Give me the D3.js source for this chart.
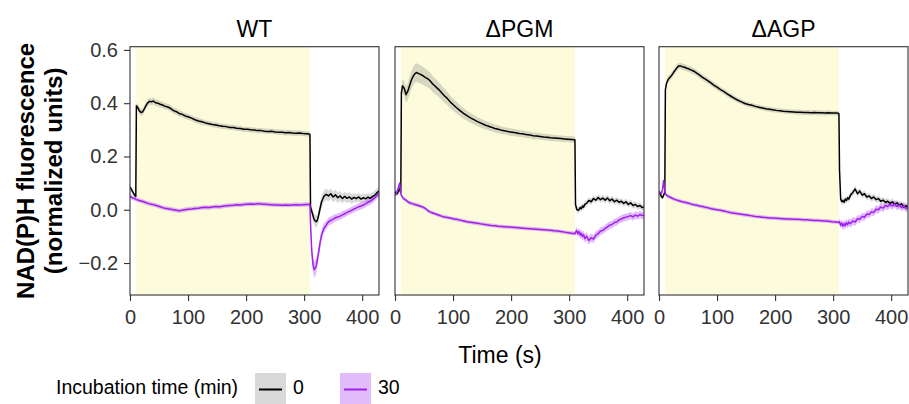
<!DOCTYPE html>
<html><head><meta charset="utf-8">
<script src="https://cdn.jsdelivr.net/npm/d3@7"></script>
<style>
body{margin:0;background:#fff;}
svg{display:block;font-family:"Liberation Sans",Arial,Helvetica,sans-serif;}
</style></head><body>
<svg id="chart" width="909" height="404"></svg>
<script>
// ---------------- DATA ----------------
const panelNames = ["WT", "\u0394PGM", "\u0394AGP"];
const incubationLevels = ["0", "30"];
const xTicks = [0, 100, 200, 300, 400];
const yTicks = [-0.2, 0, 0.2, 0.4, 0.6];
const yTickLabels = ["\u22120.2", "0.0", "0.2", "0.4", "0.6"];
const lightPeriod = [10, 310];

const time = [
 0,2,4,6,8,10,
 11,13,16,19,22,25,28,31,34,37,40,
 44,48,52,56,60,
 65,70,75,80,85,90,95,100,
 106,112,118,124,130,136,142,148,154,160,
 166,172,178,184,190,196,202,208,214,220,
 226,232,238,244,250,256,262,268,274,280,
 286,292,298,304,
 309,310,
 311,313,315,317,319,321,323,325,327,
 330,334,338,342,346,350,354,358,362,366,
 370,374,378,382,386,390,394,398,402,406,
 410,414,418,422,426,429
];

// WT, 0 min
const wt0 = [
 0.085,0.078,0.070,0.062,0.055,0.050,
 0.390,0.385,0.372,0.365,0.368,0.380,0.393,0.402,0.407,0.405,0.408,
 0.402,0.400,0.396,0.393,0.389,
 0.386,0.380,0.372,0.368,0.361,0.358,0.352,0.349,
 0.344,0.338,0.333,0.330,0.326,0.323,0.320,0.318,0.315,0.313,
 0.312,0.309,0.309,0.306,0.305,0.302,0.302,0.300,0.299,0.297,
 0.297,0.295,0.294,0.295,0.292,0.291,0.291,0.289,0.290,0.288,
 0.287,0.288,0.286,0.285,
 0.284,0.283,
 0.010,-0.005,-0.020,-0.035,-0.042,-0.045,-0.038,-0.020,0.000,
 0.030,0.050,0.058,0.052,0.060,0.048,0.056,0.045,0.052,0.042,
 0.050,0.043,0.048,0.040,0.046,0.042,0.048,0.040,0.045,0.041,
 0.047,0.043,0.050,0.055,0.065,0.070
];
const wt0se = [
 0.010,0.010,0.010,0.010,0.010,0.010,
 0.012,0.012,0.013,0.013,0.013,0.013,0.013,0.013,0.013,0.013,0.013,
 0.013,0.013,0.012,0.012,0.012,
 0.012,0.012,0.012,0.012,0.012,0.011,0.011,0.011,
 0.011,0.011,0.011,0.011,0.010,0.010,0.010,0.010,0.010,0.010,
 0.010,0.010,0.010,0.010,0.010,0.010,0.010,0.010,0.010,0.010,
 0.010,0.010,0.010,0.010,0.010,0.010,0.010,0.010,0.010,0.010,
 0.010,0.010,0.010,0.010,
 0.010,0.010,
 0.015,0.018,0.020,0.022,0.022,0.022,0.022,0.022,0.022,
 0.022,0.022,0.022,0.020,0.020,0.020,0.020,0.020,0.018,0.018,
 0.018,0.018,0.018,0.018,0.016,0.016,0.016,0.016,0.016,0.016,
 0.016,0.016,0.016,0.016,0.016,0.016
];
// WT, 30 min
const wt30 = [
 0.050,0.048,0.045,0.043,0.042,0.040,
 0.038,0.037,0.035,0.033,0.031,0.029,0.026,0.024,0.022,0.021,0.019,
 0.017,0.014,0.011,0.008,0.006,
 0.004,0.002,0.000,-0.002,-0.004,-0.002,0.000,0.002,
 0.003,0.005,0.006,0.008,0.009,0.008,0.010,0.012,0.011,0.013,
 0.015,0.016,0.017,0.019,0.018,0.020,0.021,0.022,0.021,0.023,
 0.022,0.021,0.020,0.019,0.018,0.018,0.017,0.018,0.017,0.018,
 0.019,0.018,0.019,0.020,
 0.020,0.020,
 -0.050,-0.150,-0.200,-0.225,-0.220,-0.210,-0.185,-0.160,-0.130,
 -0.095,-0.070,-0.058,-0.045,-0.040,-0.035,-0.030,-0.027,-0.024,-0.019,
 -0.015,-0.010,-0.006,-0.002,0.003,0.007,0.011,0.014,0.018,0.022,
 0.028,0.032,0.038,0.046,0.055,0.060
];
const wt30se = [
 0.008,0.008,0.008,0.008,0.008,0.008,
 0.008,0.008,0.008,0.008,0.008,0.008,0.008,0.008,0.008,0.008,0.008,
 0.008,0.008,0.008,0.008,0.008,
 0.008,0.008,0.008,0.008,0.008,0.008,0.008,0.008,
 0.008,0.008,0.008,0.008,0.008,0.008,0.008,0.008,0.008,0.008,
 0.008,0.008,0.008,0.008,0.008,0.008,0.008,0.008,0.008,0.008,
 0.008,0.008,0.008,0.008,0.008,0.008,0.008,0.008,0.008,0.008,
 0.008,0.008,0.008,0.008,
 0.008,0.010,
 0.020,0.025,0.030,0.030,0.030,0.028,0.026,0.024,0.022,
 0.020,0.018,0.016,0.015,0.015,0.015,0.014,0.014,0.014,0.014,
 0.013,0.013,0.013,0.013,0.013,0.013,0.013,0.013,0.013,0.013,
 0.013,0.013,0.013,0.013,0.013,0.013
];
// dPGM, 0 min
const pgm0 = [
 0.068,0.062,0.060,0.070,0.080,0.065,
 0.440,0.465,0.455,0.432,0.445,0.465,0.485,0.500,0.510,0.515,0.512,
 0.508,0.503,0.497,0.492,0.485,
 0.472,0.462,0.452,0.440,0.428,0.418,0.405,0.395,
 0.383,0.372,0.362,0.353,0.345,0.338,0.331,0.325,0.319,0.314,
 0.310,0.305,0.302,0.298,0.296,0.293,0.291,0.289,0.286,0.285,
 0.282,0.281,0.278,0.277,0.275,0.273,0.272,0.270,0.269,0.268,
 0.267,0.266,0.265,0.264,
 0.263,0.262,
 0.020,0.002,-0.002,0.000,0.008,0.004,0.014,0.010,0.020,
 0.024,0.035,0.030,0.042,0.036,0.046,0.038,0.044,0.036,0.044,
 0.034,0.040,0.030,0.036,0.028,0.032,0.024,0.030,0.020,0.026,
 0.016,0.020,0.012,0.016,0.008,0.010
];
const pgm0se = [
 0.010,0.010,0.010,0.010,0.010,0.010,
 0.022,0.026,0.028,0.030,0.032,0.033,0.034,0.035,0.035,0.035,0.035,
 0.034,0.034,0.033,0.032,0.031,
 0.030,0.029,0.028,0.027,0.026,0.025,0.024,0.023,
 0.022,0.021,0.020,0.019,0.018,0.018,0.017,0.017,0.016,0.016,
 0.015,0.015,0.015,0.014,0.014,0.014,0.014,0.013,0.013,0.013,
 0.013,0.013,0.013,0.012,0.012,0.012,0.012,0.012,0.012,0.012,
 0.012,0.012,0.012,0.012,
 0.012,0.012,
 0.012,0.012,0.012,0.012,0.012,0.012,0.012,0.012,0.012,
 0.012,0.012,0.012,0.012,0.012,0.012,0.012,0.012,0.012,0.012,
 0.012,0.012,0.012,0.012,0.012,0.012,0.012,0.012,0.012,0.012,
 0.012,0.012,0.012,0.012,0.012,0.012
];
// dPGM, 30 min
const pgm30 = [
 0.055,0.060,0.070,0.085,0.100,0.060,
 0.055,0.046,0.040,0.036,0.030,0.026,0.024,0.022,0.020,0.018,0.016,
 0.013,0.010,0.005,-0.002,-0.008,
 -0.012,-0.016,-0.020,-0.024,-0.027,-0.029,-0.031,-0.034,
 -0.036,-0.039,-0.042,-0.045,-0.047,-0.049,-0.051,-0.053,-0.055,-0.057,
 -0.059,-0.060,-0.062,-0.063,-0.064,-0.065,-0.066,-0.067,-0.068,-0.069,
 -0.070,-0.071,-0.072,-0.073,-0.074,-0.075,-0.076,-0.077,-0.079,-0.080,
 -0.082,-0.084,-0.086,-0.088,
 -0.089,-0.090,
 -0.085,-0.078,-0.090,-0.082,-0.095,-0.088,-0.100,-0.094,-0.108,
 -0.100,-0.115,-0.105,-0.110,-0.095,-0.090,-0.080,-0.078,-0.070,-0.064,
 -0.058,-0.055,-0.048,-0.046,-0.038,-0.035,-0.030,-0.028,-0.025,-0.022,
 -0.027,-0.020,-0.024,-0.018,-0.022,-0.020
];
const pgm30se = [
 0.007,0.007,0.007,0.007,0.007,0.007,
 0.007,0.007,0.007,0.007,0.007,0.007,0.007,0.007,0.007,0.007,0.007,
 0.007,0.007,0.007,0.007,0.007,
 0.007,0.007,0.007,0.007,0.007,0.007,0.007,0.007,
 0.007,0.007,0.007,0.007,0.007,0.007,0.007,0.007,0.007,0.007,
 0.007,0.007,0.007,0.007,0.007,0.007,0.007,0.007,0.007,0.007,
 0.007,0.007,0.007,0.007,0.007,0.007,0.007,0.007,0.007,0.007,
 0.007,0.007,0.007,0.007,
 0.007,0.008,
 0.012,0.013,0.014,0.015,0.016,0.016,0.016,0.016,0.016,
 0.016,0.016,0.016,0.015,0.015,0.015,0.014,0.014,0.014,0.014,
 0.014,0.014,0.014,0.014,0.014,0.014,0.014,0.014,0.014,0.014,
 0.014,0.014,0.014,0.014,0.014,0.014
];
// dAGP, 0 min
const agp0 = [
 0.068,0.060,0.050,0.045,0.055,0.065,
 0.450,0.475,0.490,0.497,0.505,0.515,0.524,0.533,0.540,0.540,0.537,
 0.535,0.531,0.528,0.524,0.520,
 0.513,0.505,0.497,0.490,0.483,0.475,0.467,0.460,
 0.451,0.443,0.434,0.426,0.418,0.411,0.405,0.399,0.395,0.392,
 0.388,0.385,0.382,0.379,0.377,0.375,0.373,0.372,0.370,0.369,
 0.368,0.367,0.366,0.366,0.365,0.365,0.364,0.365,0.364,0.364,
 0.363,0.364,0.363,0.363,
 0.362,0.360,
 0.150,0.040,0.030,0.035,0.028,0.040,0.035,0.045,0.040,
 0.055,0.065,0.078,0.060,0.070,0.055,0.060,0.048,0.052,0.042,
 0.048,0.038,0.042,0.032,0.036,0.028,0.032,0.024,0.030,0.020,
 0.026,0.016,0.022,0.010,0.015,0.008
];
const agp0se = [
 0.008,0.008,0.008,0.008,0.008,0.008,
 0.012,0.012,0.012,0.012,0.012,0.012,0.012,0.012,0.012,0.012,0.012,
 0.012,0.012,0.012,0.012,0.012,
 0.011,0.011,0.011,0.011,0.011,0.011,0.011,0.011,
 0.010,0.010,0.010,0.010,0.010,0.009,0.009,0.009,0.009,0.009,
 0.009,0.009,0.009,0.009,0.009,0.009,0.009,0.009,0.009,0.009,
 0.009,0.009,0.009,0.009,0.009,0.009,0.009,0.009,0.009,0.009,
 0.009,0.009,0.009,0.009,
 0.009,0.009,
 0.012,0.012,0.012,0.012,0.012,0.012,0.012,0.012,0.012,
 0.012,0.012,0.012,0.012,0.012,0.012,0.012,0.012,0.012,0.012,
 0.012,0.012,0.012,0.012,0.012,0.012,0.012,0.012,0.012,0.012,
 0.012,0.012,0.012,0.012,0.012,0.012
];
// dAGP, 30 min
const agp30 = [
 0.060,0.065,0.060,0.075,0.110,0.070,
 0.060,0.055,0.050,0.047,0.044,0.041,0.038,0.036,0.034,0.032,0.030,
 0.028,0.026,0.024,0.021,0.019,
 0.017,0.014,0.012,0.009,0.007,0.004,0.002,0.000,
 -0.002,-0.005,-0.008,-0.011,-0.013,-0.015,-0.017,-0.019,-0.021,-0.023,
 -0.025,-0.026,-0.028,-0.029,-0.031,-0.031,-0.032,-0.033,-0.034,-0.035,
 -0.035,-0.036,-0.036,-0.037,-0.038,-0.038,-0.039,-0.040,-0.040,-0.041,
 -0.042,-0.043,-0.045,-0.046,
 -0.047,-0.048,
 -0.045,-0.058,-0.050,-0.062,-0.052,-0.060,-0.048,-0.056,-0.046,
 -0.052,-0.042,-0.046,-0.034,-0.036,-0.025,-0.028,-0.016,-0.018,-0.008,
 -0.010,0.002,0.000,0.010,0.006,0.016,0.012,0.020,0.014,0.022,
 0.012,0.018,0.008,0.015,0.004,0.010
];
const agp30se = [
 0.007,0.007,0.007,0.007,0.007,0.007,
 0.007,0.007,0.007,0.007,0.007,0.007,0.007,0.007,0.007,0.007,0.007,
 0.007,0.007,0.007,0.007,0.007,
 0.007,0.007,0.007,0.007,0.007,0.007,0.007,0.007,
 0.007,0.007,0.007,0.007,0.007,0.007,0.007,0.007,0.007,0.007,
 0.007,0.007,0.007,0.007,0.007,0.007,0.007,0.007,0.007,0.007,
 0.007,0.007,0.007,0.007,0.007,0.007,0.007,0.007,0.007,0.007,
 0.007,0.007,0.007,0.007,
 0.007,0.008,
 0.012,0.013,0.014,0.015,0.015,0.015,0.015,0.015,0.015,
 0.015,0.015,0.015,0.014,0.014,0.014,0.014,0.014,0.014,0.014,
 0.014,0.014,0.014,0.014,0.014,0.014,0.014,0.014,0.014,0.014,
 0.014,0.014,0.014,0.014,0.014,0.014
];

// ---------------- LAYOUT / STYLE ----------------
const seriesByPanel = [
  [{mean: wt0, se: wt0se, lvl: 0}, {mean: wt30, se: wt30se, lvl: 1}],
  [{mean: pgm0, se: pgm0se, lvl: 0}, {mean: pgm30, se: pgm30se, lvl: 1}],
  [{mean: agp0, se: agp0se, lvl: 0}, {mean: agp30, se: agp30se, lvl: 1}]
];
const lineColors = ["#000000", "#A020F0"];
const ribbonColors = ["#808080", "#A020F0"];
const ribbonOpacity = 0.3;
const panelLeft = [130, 395, 659];
const panelTop = 46.7, panelW = 249, panelH = 248.3;

const svg = d3.select("#chart");
const x = d3.scaleLinear().domain([0, 429]).range([0, panelW]);
const y = d3.scaleLinear().domain([-0.32, 0.612]).range([panelH, 0]);

const defs = svg.append("defs");
defs.append("clipPath").attr("id", "pclip")
  .append("rect").attr("x", 0).attr("y", 0).attr("width", panelW).attr("height", panelH);

panelNames.forEach((name, p) => {
  const g = svg.append("g").attr("transform", `translate(${panelLeft[p]},${panelTop})`);
  g.append("rect").attr("width", panelW).attr("height", panelH).attr("fill", "#fff");
  const inner = g.append("g").attr("clip-path", "url(#pclip)");
  inner.append("rect")
    .attr("x", x(lightPeriod[0])).attr("y", 0)
    .attr("width", x(lightPeriod[1]) - x(lightPeriod[0])).attr("height", panelH)
    .attr("fill", "#FCFCDC");

  const series = seriesByPanel[p];
  series.forEach(s => {
    const pts = time.map((t, i) => ({t, m: s.mean[i], e: s.se[i]}));
    const area = d3.area().x(d => x(d.t)).y0(d => y(d.m - d.e)).y1(d => y(d.m + d.e));
    inner.append("path").attr("d", area(pts))
      .attr("fill", ribbonColors[s.lvl]).attr("fill-opacity", ribbonOpacity);
  });
  series.forEach(s => {
    const pts = time.map((t, i) => ({t, m: s.mean[i]}));
    const line = d3.line().x(d => x(d.t)).y(d => y(d.m));
    inner.append("path").attr("d", line(pts))
      .attr("fill", "none").attr("stroke", lineColors[s.lvl])
      .attr("stroke-width", 1.5).attr("stroke-linejoin", "round");
  });

  g.append("rect").attr("width", panelW).attr("height", panelH)
    .attr("fill", "none").attr("stroke", "#333").attr("stroke-width", 1.1);

  // x axis
  const xa = g.append("g").attr("transform", `translate(0,${panelH})`)
    .call(d3.axisBottom(x).tickValues(xTicks).tickSize(6).tickPadding(9).tickFormat(d3.format("d")));
  xa.select(".domain").remove();
  xa.selectAll("line").attr("stroke", "#333").attr("stroke-width", 1.1);
  xa.selectAll("text").attr("fill", "#333").style("font-size", "20px")
    .style("font-family", '"Liberation Sans",Arial,sans-serif');

  // y axis only on first panel
  if (p === 0) {
    const ya = g.append("g")
      .call(d3.axisLeft(y).tickValues(yTicks).tickSize(6).tickPadding(6)
        .tickFormat((d, i) => yTickLabels[i]));
    ya.select(".domain").remove();
    ya.selectAll("line").attr("stroke", "#333").attr("stroke-width", 1.1);
    ya.selectAll("text").attr("fill", "#333").style("font-size", "20px")
      .style("font-family", '"Liberation Sans",Arial,sans-serif');
  }

  // strip title
  svg.append("text").attr("x", panelLeft[p] + panelW / 2).attr("y", 37)
    .attr("text-anchor", "middle").style("font-size", "23px").attr("fill", "#000")
    .text(name);
});

// axis titles
svg.append("text").attr("x", 500).attr("y", 363).attr("text-anchor", "middle")
  .style("font-size", "23px").attr("fill", "#000").text("Time (s)");
const yTitleY = panelTop + panelH / 2;
svg.append("text").attr("transform", `translate(34,${yTitleY}) rotate(-90)`)
  .attr("text-anchor", "middle").style("font-size", "24px").style("font-weight", "bold")
  .text("NAD(P)H fluorescence");
svg.append("text").attr("transform", `translate(62,${yTitleY}) rotate(-90)`)
  .attr("text-anchor", "middle").style("font-size", "24px").style("font-weight", "bold")
  .text("(normalized units)");

// legend
const lg = svg.append("g");
lg.append("text").attr("x", 56).attr("y", 394).style("font-size", "19.5px").attr("fill", "#000")
  .text("Incubation time (min)");
const keyX = [255, 340];
const labX = [293, 378];
incubationLevels.forEach((lvl, i) => {
  lg.append("rect").attr("x", keyX[i]).attr("y", 373).attr("width", 31).attr("height", 34)
    .attr("fill", ribbonColors[i]).attr("fill-opacity", ribbonOpacity);
  lg.append("line").attr("x1", keyX[i] + 4).attr("x2", keyX[i] + 27)
    .attr("y1", 389.5).attr("y2", 389.5)
    .attr("stroke", lineColors[i]).attr("stroke-width", 2);
  lg.append("text").attr("x", labX[i]).attr("y", 394).style("font-size", "19.5px").attr("fill", "#000")
    .text(lvl);
});
</script>
</body></html>
